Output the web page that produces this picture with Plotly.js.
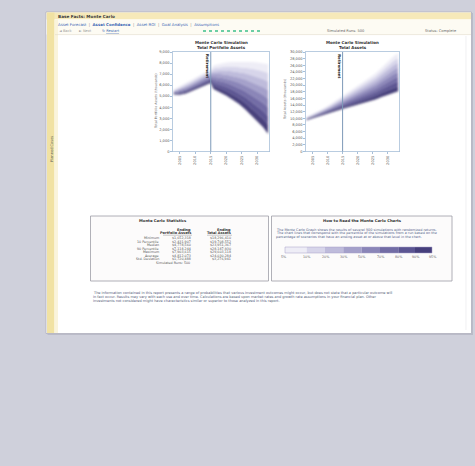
<!DOCTYPE html>
<html><head><meta charset="utf-8">
<script src="https://cdn.plot.ly/plotly-3.0.1.min.js"></script>
<style>html,body{margin:0;padding:0;background:#cfd0db;}#chart{width:475px;height:466px;}</style>
</head><body><div id="chart"></div>
<script>
// ---------- data ----------
const years = [2003, 2005, 2007, 2009, 2011, 2013, 2015, 2016, 2018, 2020, 2022, 2024, 2026, 2028, 2030, 2032, 2033.5];
const retirementYear = 2015;
const xTickYears = [2005, 2010, 2015, 2020, 2025, 2030];

// Total Portfolio Assets (thousands) - percentile curves from bottom (darkest) to top (lightest)
const portfolio0 = [5200, 5180, 5300, 5520, 5780, 6020, 6250, 5680, 5420, 5100, 4740, 4370, 3900, 3320, 2780, 2220, 1650];
const portfolio1 = [5250, 5270, 5410, 5640, 5910, 6160, 6400, 5950, 5740, 5470, 5160, 4840, 4430, 3920, 3440, 2940, 2430];
const portfolio2 = [5300, 5360, 5520, 5770, 6050, 6300, 6550, 6210, 6050, 5840, 5580, 5300, 4960, 4520, 4100, 3660, 3210];
const portfolio3 = [5350, 5450, 5640, 5890, 6180, 6440, 6700, 6480, 6370, 6210, 6000, 5770, 5480, 5110, 4760, 4380, 3990];
const portfolio4 = [5400, 5540, 5750, 6010, 6320, 6590, 6850, 6740, 6690, 6580, 6420, 6240, 6010, 5710, 5420, 5100, 4780];
const portfolio5 = [5450, 5630, 5860, 6130, 6450, 6730, 7000, 7010, 7000, 6940, 6840, 6700, 6540, 6310, 6080, 5820, 5560];
const portfolio6 = [5500, 5720, 5980, 6260, 6580, 6870, 7150, 7270, 7320, 7310, 7260, 7170, 7070, 6910, 6730, 6540, 6340];
const portfolio7 = [5550, 5810, 6090, 6380, 6720, 7010, 7300, 7540, 7630, 7680, 7680, 7640, 7590, 7500, 7390, 7260, 7120];
const portfolio8 = [5600, 5900, 6200, 6500, 6850, 7150, 7450, 7800, 7950, 8050, 8100, 8100, 8120, 8100, 8050, 7980, 7900];

// Total Assets (thousands)
const total0 = [9600, 10200, 10800, 11400, 12000, 12500, 13000, 13250, 13800, 14250, 14750, 15250, 15850, 16600, 17300, 17900, 18300];
const total1 = [9700, 10340, 10980, 11630, 12290, 12880, 13460, 13780, 14410, 14940, 15530, 16130, 16820, 17690, 18510, 19250, 19710];
const total2 = [9800, 10480, 11150, 11850, 12580, 13250, 13930, 14310, 15030, 15640, 16310, 17010, 17790, 18780, 19730, 20600, 21130];
const total3 = [9900, 10610, 11330, 12080, 12860, 13630, 14390, 14840, 15640, 16330, 17090, 17890, 18760, 19860, 20940, 21950, 22540];
const total4 = [10000, 10750, 11500, 12300, 13150, 14000, 14850, 15380, 16250, 17030, 17880, 18780, 19730, 20950, 22150, 23300, 23950];
const total5 = [10100, 10890, 11680, 12530, 13440, 14380, 15310, 15910, 16860, 17720, 18660, 19660, 20690, 22040, 23360, 24650, 25360];
const total6 = [10200, 11030, 11850, 12750, 13730, 14750, 15780, 16440, 17480, 18410, 19440, 20540, 21660, 23130, 24580, 26000, 26780];
const total7 = [10300, 11160, 12030, 12980, 14010, 15130, 16240, 16970, 18090, 19110, 20220, 21420, 22630, 24210, 25790, 27350, 28190];
const total8 = [10400, 11300, 12200, 13200, 14300, 15500, 16700, 17500, 18700, 19800, 21000, 22300, 23600, 25300, 27000, 28700, 29600];

const bandLabels = ["5%", "10%", "20%", "30%", "50%", "70%", "80%", "90%", "95%"];
const statLabels = ["Minimum", "10 Percentile", "Median", "90 Percentile", "Maximum", "Average", "Std. Deviation"];
const portfolioEnding = ["$1,652,318", "$2,431,907", "$4,778,560", "$7,118,244", "$7,903,615", "$4,812,073", "$1,720,488"];
const totalEnding = ["$18,296,410", "$19,708,552", "$23,951,367", "$28,187,930", "$29,603,118", "$24,030,284", "$3,276,941"];
const simulatedRuns = 500;

// ---------- styles ----------
const bandColors = ['#463f7c', '#5b5592', '#726ca5', '#8a85b8', '#a4a0ca', '#bebbdb', '#d7d5ea', '#eeedf6'];
const W = 475, H = 466;
const px = v => v / W, py = v => 1 - v / H;
const FONT = 'DejaVu Sans';

function fan(curves, xa, ya) {
  return curves.map((c, i) => ({
    x: years, y: c, xaxis: xa, yaxis: ya, type: 'scatter', mode: 'lines',
    line: {width: i === 0 ? 0.9 : 0, color: i === 0 ? '#3b356b' : 'rgba(0,0,0,0)'},
    fill: i === 0 ? 'none' : 'tonexty',
    fillcolor: i === 0 ? undefined : bandColors[i - 1],
    hoverinfo: 'skip', showlegend: false
  }));
}

const traces = [
  ...fan([portfolio0, portfolio1, portfolio2, portfolio3, portfolio4, portfolio5, portfolio6, portfolio7, portfolio8], 'x', 'y'),
  ...fan([total0, total1, total2, total3, total4, total5, total6, total7, total8], 'x2', 'y2')
];

const axisStyle = {
  showgrid: false, zeroline: false, showline: true, mirror: true,
  linecolor: '#a7bfd8', linewidth: 0.8, ticks: 'outside', ticklen: 2,
  tickcolor: '#a7bfd8', tickfont: {size: 3.6, color: '#555', family: FONT}
};
const xCommon = Object.assign({}, axisStyle, {
  range: [2002.8, 2033.8], tickvals: xTickYears, ticktext: xTickYears.map(String), tickangle: -90
});

function A(x, y, text, o) {
  return Object.assign({xref: 'paper', yref: 'paper', x: px(x), y: py(y), text: text, showarrow: false,
    xanchor: 'left', yanchor: 'middle', borderpad: 0, font: {size: 4, color: '#333', family: FONT}}, o || {});
}

const annotations = [
  A(57, 16.3, '<b>Base Facts: Monte Carlo</b>', {font: {size: 4.2, color: '#3a3a3a', family: FONT}}),
  A(57, 24, 'Asset Forecast  <span style="color:#888">|</span>  <b>Asset Confidence</b>  <span style="color:#888">|</span>  Asset ROI  <span style="color:#888">|</span>  Goal Analysis  <span style="color:#888">|</span>  Assumptions', {font: {size: 3.9, color: '#3b66b3', family: FONT}}),
  A(58, 30.7, '◄ Back', {font: {size: 3.6, color: '#999', family: FONT}}),
  A(78, 30.7, '► Next', {font: {size: 3.6, color: '#999', family: FONT}}),
  A(101, 30.7, '↻ <u>Restart</u>', {font: {size: 3.6, color: '#3b66b3', family: FONT}}),
  A(346, 30.7, 'Simulated Runs: ' + simulatedRuns, {xanchor: 'center', font: {size: 3.6, color: '#666', family: FONT}}),
  A(441, 30.7, 'Status: Complete', {xanchor: 'center', font: {size: 3.6, color: '#666', family: FONT}}),
  A(52, 149, 'Planned Cases', {xanchor: 'center', textangle: -90, font: {size: 3.6, color: '#5a5f55', family: FONT}}),
  // chart titles
  A(221, 42, '<b>Monte Carlo Simulation</b>', {xanchor: 'center', font: {size: 4, color: '#333', family: FONT}}),
  A(221, 47.5, '<b>Total Portfolio Assets</b>', {xanchor: 'center', font: {size: 4, color: '#333', family: FONT}}),
  A(352.5, 42, '<b>Monte Carlo Simulation</b>', {xanchor: 'center', font: {size: 4, color: '#333', family: FONT}}),
  A(352.5, 47.5, '<b>Total Assets</b>', {xanchor: 'center', font: {size: 4, color: '#333', family: FONT}}),
  A(156, 101, 'Total Portfolio Assets (thousands)', {xanchor: 'center', textangle: -90, font: {size: 3.3, color: '#666', family: FONT}}),
  A(285, 100, 'Total Assets (thousands)', {xanchor: 'center', textangle: -90, font: {size: 3.3, color: '#666', family: FONT}}),
  {xref: 'x', yref: 'paper', x: retirementYear, y: py(53), xanchor: 'right', yanchor: 'top', xshift: -0.3, textangle: 90,
   text: '<b>Retirement</b>', showarrow: false, borderpad: 0, font: {size: 3.8, color: '#111', family: FONT}},
  {xref: 'x2', yref: 'paper', x: retirementYear, y: py(53), xanchor: 'right', yanchor: 'top', xshift: -0.3, textangle: 90,
   text: '<b>Retirement</b>', showarrow: false, borderpad: 0, font: {size: 3.8, color: '#111', family: FONT}},
  // stats box
  A(163, 220.5, '<b>Monte Carlo Statistics</b>', {xanchor: 'center', font: {size: 3.8, color: '#333', family: FONT}}),
  A(192, 229.5, '<b>Ending</b>', {xanchor: 'right', font: {size: 3.5, color: '#333', family: FONT}}),
  A(192, 233.3, '<b>Portfolio Assets</b>', {xanchor: 'right', font: {size: 3.5, color: '#333', family: FONT}}),
  A(232, 229.5, '<b>Ending</b>', {xanchor: 'right', font: {size: 3.5, color: '#333', family: FONT}}),
  A(232, 233.3, '<b>Total Assets</b>', {xanchor: 'right', font: {size: 3.5, color: '#333', family: FONT}}),
  A(173, 262.8, 'Simulated Runs: ' + simulatedRuns, {xanchor: 'center', font: {size: 3.3, color: '#555', family: FONT}}),
  // how to read
  A(362, 220.5, '<b>How to Read the Monte Carlo Charts</b>', {xanchor: 'center', font: {size: 3.8, color: '#333', family: FONT}}),
  A(275, 230, 'The Monte Carlo Graph shows the results of several 500 simulations with randomized returns.', {font: {size: 3.4, color: '#4d5a86', family: FONT}}),
  A(275, 233.4, 'The chart lines that correspond with the percentile of the simulations from a run based on the', {font: {size: 3.4, color: '#4d5a86', family: FONT}}),
  A(275, 236.8, 'percentage of scenarios that have an ending asset at or above that level in the chart.', {font: {size: 3.4, color: '#4d5a86', family: FONT}}),
  // disclaimer
  A(92, 293, 'The information contained in this report presents a range of probabilities that various investment outcomes might occur, but does not state that a particular outcome will', {font: {size: 3.5, color: '#56607a', family: FONT}}),
  A(92, 297, 'in fact occur. Results may vary with each use and over time. Calculations are based upon market rates and growth rate assumptions in your financial plan. Other', {font: {size: 3.5, color: '#56607a', family: FONT}}),
  A(92, 301, 'investments not considered might have characteristics similar or superior to those analyzed in this report.', {font: {size: 3.5, color: '#56607a', family: FONT}})
];

const rowY = [238.3, 241.7, 245.2, 248.7, 252.2, 255.7, 259.2];
statLabels.forEach((lab, i) => {
  annotations.push(A(160, rowY[i], lab, {xanchor: 'right', font: {size: 3.3, color: '#555', family: FONT}}));
  annotations.push(A(192, rowY[i], portfolioEnding[i], {xanchor: 'right', font: {size: 3.3, color: '#555', family: FONT}}));
  annotations.push(A(232, rowY[i], totalEnding[i], {xanchor: 'right', font: {size: 3.3, color: '#555', family: FONT}}));
});

// legend strip geometry (style)
const stripEdges = [285, 306.7, 325, 343.3, 361.7, 380, 398.3, 415, 432];
const legendColors = bandColors.slice().reverse();
bandLabels.forEach((lab, i) => {
  const xx = i === 0 ? 283 : stripEdges[i];
  annotations.push(A(xx, 256.5, lab, {xanchor: 'center', font: {size: 3.3, color: '#666', family: FONT}}));
});

const R = (x0, y0, x1, y1, fill, line, lw, layer) => ({type: 'rect', xref: 'paper', yref: 'paper',
  x0: px(x0), x1: px(x1), y0: py(y1), y1: py(y0), fillcolor: fill, line: {color: line || 'rgba(0,0,0,0)', width: lw || 0}, layer: layer || 'below'});
const L = (x0, y0, x1, y1, color, w, dash) => ({type: 'line', xref: 'paper', yref: 'paper',
  x0: px(x0), x1: px(x1), y0: py(y0), y1: py(y1), line: {color: color, width: w, dash: dash || 'solid'}, layer: 'below'});

const shapes = [
  R(47.5, 13, 473, 335, '#babbc8'),
  R(46, 12, 471.5, 333.5, '#ffffff', '#b0b0bd', 0.8),
  R(46.5, 12.5, 471, 19.5, '#f6e9b9'),
  R(46.5, 19.5, 471, 34.5, '#fdfbf3'),
  R(47, 12.5, 54.5, 333, '#f1e2a3'),
  R(54.5, 19.5, 58, 333, '#faf4dc'),
  L(55, 34.6, 471, 34.6, '#e0dccb', 0.6),
  L(466, 36, 466, 330, '#e6e6ea', 0.6),
  L(203, 31, 262, 31, '#3cc08a', 1.6, 'dot'),
  R(90.5, 216, 268.5, 281, '#fcfbfb', '#9d9da6', 0.8),
  R(271.5, 216, 452, 281, '#fcfbfb', '#9d9da6', 0.8),
  L(163, 235.2, 192, 235.2, '#777', 0.4),
  L(207, 235.2, 232, 235.2, '#777', 0.4)
];
legendColors.forEach((c, i) => shapes.push(R(stripEdges[i], 247, stripEdges[i + 1], 253, c)));
shapes.push(R(285, 247, 432, 253, 'rgba(0,0,0,0)', '#a59fc4', 0.5));
shapes.push({type: 'line', xref: 'x', yref: 'y domain', x0: retirementYear, x1: retirementYear, y0: 0, y1: 1, line: {color: '#7d99b8', width: 1}, layer: 'above'});
shapes.push({type: 'line', xref: 'x2', yref: 'y2 domain', x0: retirementYear, x1: retirementYear, y0: 0, y1: 1, line: {color: '#7d99b8', width: 1}, layer: 'above'});

const layout = {
  width: W, height: H, margin: {l: 0, r: 0, t: 0, b: 0},
  paper_bgcolor: '#cfd0db', plot_bgcolor: '#ffffff', showlegend: false,
  font: {family: FONT, size: 4, color: '#444'},
  xaxis: Object.assign({}, xCommon, {domain: [px(173), px(269)], anchor: 'y'}),
  yaxis: Object.assign({}, axisStyle, {domain: [py(151.5), py(52)], range: [0, 9000], dtick: 1000, tickformat: ',', anchor: 'x'}),
  xaxis2: Object.assign({}, xCommon, {domain: [px(306), px(399)], anchor: 'y2'}),
  yaxis2: Object.assign({}, axisStyle, {domain: [py(151.5), py(52)], range: [0, 30000], dtick: 2000, tickformat: ',', anchor: 'x2'}),
  shapes: shapes, annotations: annotations
};

Plotly.newPlot('chart', traces, layout, {staticPlot: true, displayModeBar: false}).then(gd => {
  // soften the band steps like the original's smooth gradient
  const svg = gd.querySelector('svg.main-svg');
  const NS = 'http://www.w3.org/2000/svg';
  let defs = svg.querySelector('defs');
  if (!defs) { defs = document.createElementNS(NS, 'defs'); svg.insertBefore(defs, svg.firstChild); }
  const f = document.createElementNS(NS, 'filter');
  f.setAttribute('id', 'fanSoft');
  f.setAttribute('x', '-5%'); f.setAttribute('y', '-5%');
  f.setAttribute('width', '110%'); f.setAttribute('height', '110%');
  const b = document.createElementNS(NS, 'feGaussianBlur');
  b.setAttribute('stdDeviation', '0.8');
  f.appendChild(b); defs.appendChild(f);
  gd.querySelectorAll('.scatterlayer').forEach(g => g.setAttribute('filter', 'url(#fanSoft)'));
});
</script></body></html>
